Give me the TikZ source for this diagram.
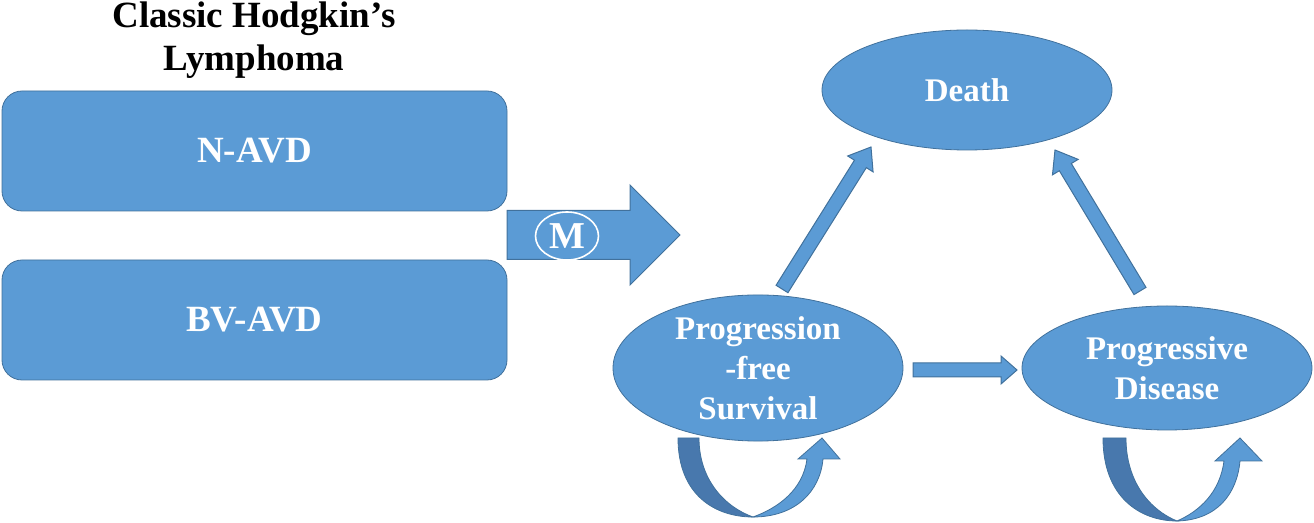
\documentclass[tikz,border=0pt]{standalone}
\usepackage{fontspec}
\setmainfont{Liberation Serif}
\usetikzlibrary{shapes.geometric,calc}

\definecolor{ofblue}{HTML}{5B9BD5}
\definecolor{ofline}{HTML}{41719C}
\definecolor{ofdark}{HTML}{4878AD}

\tikzset{
  box/.style={draw=ofline,fill=ofblue,rounded corners=10pt,minimum width=252.5pt,
    minimum height=60pt,text=white,font=\fontsize{18.5}{22}\selectfont\bfseries},
  state/.style={ellipse,draw=ofline,fill=ofblue,minimum width=145pt,minimum height=60pt,
    inner sep=0pt,align=center,text=white,font=\fontsize{16.5}{20}\selectfont\bfseries},
  fatarrow/.style={draw=ofline,fill=ofblue,line width=0.5pt},
  loopback/.style={draw=ofline,fill=ofdark,line width=0.4pt},
  loopfront/.style={draw=ofline,fill=ofblue,line width=0.4pt}
}

% block arrow: from, to, half shaft, half head, head length
\newcommand{\fatarrow}[5]{%
  \coordinate (hb) at ($(#2)!#5!(#1)$);
  \path[fatarrow] ($(#1)!#3!90:(#2)$) -- ($(hb)!#3!90:(#2)$) -- ($(hb)!#4!90:(#2)$)
    -- (#2) -- ($(hb)!#4!-90:(#2)$) -- ($(hb)!#3!-90:(#2)$) -- ($(#1)!#3!-90:(#2)$) -- cycle;
}

\begin{document}
\begin{tikzpicture}[x=0.5pt,y=-0.5pt]
\useasboundingbox (0,0) rectangle (1314,523);

% treatment arms
\node [align=center,font=\fontsize{18.5}{21.5}\selectfont\bfseries] (title) at (254,40)
  {Classic Hodgkin’s\\Lymphoma};
\node [box] (navd) at (254.5,151) {N-AVD};
\node [box] (bvavd) at (254.5,320) {BV-AVD};

% model arrow
\coordinate (mtail) at (507,235);
\coordinate (mtip) at (680,235);
\fatarrow{mtail}{mtip}{12.25pt}{25pt}{25pt}
\node [ellipse,draw=white,line width=0.8pt,minimum width=31.5pt,minimum height=24pt,inner sep=0pt,
  text=white,font=\fontsize{19}{22}\selectfont\bfseries] (m) at (567,236) {M};

% health states
\node [state] (death) at (967,90) {Death};
\node [state,minimum height=62pt] (pfs) at (758,368) {Progression\\-free\\Survival};
\node [state,minimum height=62pt] (pd) at (1167,368) {Progressive\\Disease};

% transitions
\coordinate (pfsup) at (782,289);
\coordinate (deathl) at (871,147);
\coordinate (pdup) at (1140,291);
\coordinate (deathr) at (1055,150);
\coordinate (pfsr) at (913,370);
\coordinate (pdl) at (1017,370);
\fatarrow{pfsup}{deathl}{3.5pt}{7.5pt}{10pt}
\fatarrow{pdup}{deathr}{3.5pt}{7.5pt}{10pt}
\fatarrow{pfsr}{pdl}{3.5pt}{7pt}{8pt}

% staying in state
\path [loopback] (678,438) .. controls (678,495) and (715,517) .. (753,517)
  .. controls (725,507) and (699,480) .. (699,438) -- cycle;
\path [loopfront] (753,517) .. controls (795,517) and (820,492) .. (823,459) -- (840,459)
  -- (822,438) -- (798,459) -- (807,459) .. controls (803,490) and (778,508) .. (753,517) -- cycle;
\path [loopback] (1103,438) .. controls (1103,497) and (1140,521) .. (1177,521)
  .. controls (1150,510) and (1126,482) .. (1126,438) -- cycle;
\path [loopfront] (1177,521) .. controls (1217,520) and (1237,494) .. (1240,461) -- (1262,461)
  -- (1240,438) -- (1215,461) -- (1224,461) .. controls (1220,492) and (1200,511) .. (1177,521) -- cycle;
\end{tikzpicture}
\end{document}
